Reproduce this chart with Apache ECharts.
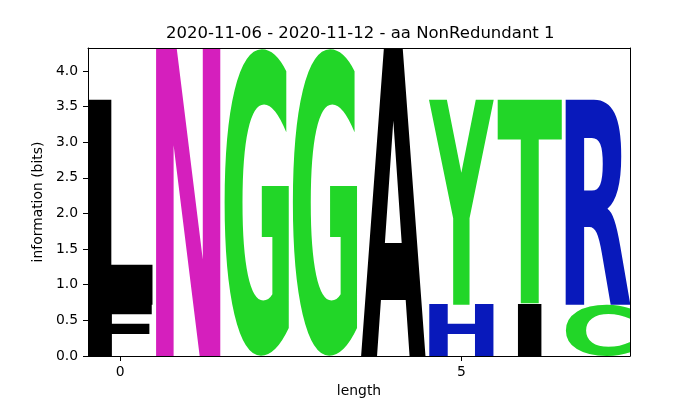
<!DOCTYPE html>
<html>
<head>
<meta charset="utf-8">
<script src="https://cdn.jsdelivr.net/npm/echarts@6/dist/echarts.min.js"></script>
<style>
html, body { margin: 0; background: #fff; }
#chart { width: 700px; height: 400px; }
</style>
</head>
<body>
<div id="chart"></div>
<script>
// glyphs, stacked bottom to top inside each position
var letterPos = [0, 0, 1, 2, 3, 4, 5, 5, 6, 6, 7, 7];
var letterChars = ['F', 'L', 'N', 'G', 'G', 'A', 'H', 'Y', 'I', 'T', 'C', 'R'];
var letterBits = [0.72, 2.88, 4.32, 4.32, 4.32, 4.32, 0.72, 2.88, 0.72, 2.88, 0.72, 2.88];

var xTicks = [0, 5];
var yTicks = [0, 0.5, 1, 1.5, 2, 2.5, 3, 3.5, 4];

var titleText = '2020-11-06 - 2020-11-12 - aa NonRedundant 1';

var colors = {
	F: '#000000', L: '#000000', A: '#000000', I: '#000000',
	N: '#D51FBD',
	G: '#22D628', Y: '#22D628', T: '#22D628', C: '#22D628',
	H: '#0819BB', R: '#0819BB'
};

var GLYPH_FAMILY = 'DejaVu Sans';
var GLYPH_SIZE = 200;
var GLYPH_W = 0.95;
// narrow letters get no more horizontal stretch than this one
var STRETCH_REF = 'E';

// ink box of each letter, relative to a left / middle anchor (the way zrender draws text)
var measureCtx = document.createElement('canvas').getContext('2d');
var boxes = {};
function inkBox(ch){
	if(boxes[ch]) return boxes[ch];
	measureCtx.font = 'bold ' + GLYPH_SIZE + 'px ' + GLYPH_FAMILY;
	measureCtx.textBaseline = 'middle';
	measureCtx.textAlign = 'left';
	var m = measureCtx.measureText(ch);
	boxes[ch] = {
		l: -m.actualBoundingBoxLeft,
		r: m.actualBoundingBoxRight,
		t: -m.actualBoundingBoxAscent,
		b: m.actualBoundingBoxDescent
	};
	return boxes[ch];
}

var floors = {};
var letterData = letterPos.map(function(p, i){
	var base = floors[p] || 0;
	floors[p] = base + letterBits[i];
	return [p, base, letterBits[i], i];
});

function renderLetter(params, api){
	var p = api.value(0), base = api.value(1), h = api.value(2);
	var ch = letterChars[api.value(3)];
	var lo = api.coord([p - GLYPH_W / 2, base]);
	var hi = api.coord([p + GLYPH_W / 2, base + h]);
	var slot = hi[0] - lo[0];
	var b = inkBox(ch), e = inkBox(STRETCH_REF);
	var sx = Math.min(slot / (b.r - b.l), slot / (e.r - e.l));
	var shift = (slot - (b.r - b.l) * sx) / 2;
	var sy = (lo[1] - hi[1]) / (b.b - b.t);
	return {
		type: 'text',
		x: lo[0] + shift - b.l * sx,
		y: hi[1] - b.t * sy,
		scaleX: sx,
		scaleY: sy,
		style: {
			text: ch,
			x: 0,
			y: 0,
			fill: colors[ch],
			fontFamily: GLYPH_FAMILY,
			fontSize: GLYPH_SIZE,
			fontWeight: 'bold',
			align: 'left',
			verticalAlign: 'middle'
		}
	};
}

function ext(a, b){
	for(var k in b) a[k] = b[k];
	return a;
}

var labelFont = {fontFamily: 'DejaVu Sans', fontSize: 13.9, color: '#000'};

var chart = echarts.init(document.getElementById('chart'), null, {renderer: 'canvas'});
chart.setOption({
	animation: false,
	backgroundColor: '#fff',
	title: {
		text: titleText,
		left: 161,
		top: 20,
		textStyle: {fontFamily: 'DejaVu Sans', fontSize: 16.5, fontWeight: 'normal', color: '#000'}
	},
	grid: {left: 88, right: 70, top: 48, bottom: 44, containLabel: false, outerBoundsMode: 'none'},
	xAxis: [{
		type: 'value',
		min: -0.47,
		max: 7.47,
		name: 'length',
		nameLocation: 'middle',
		nameGap: 28,
		nameTextStyle: labelFont,
		splitLine: {show: false},
		axisLine: {onZero: false, lineStyle: {color: '#000', width: 1}},
		axisTick: {length: 5, lineStyle: {color: '#000'}, customValues: xTicks},
		axisLabel: ext({margin: 9, customValues: xTicks}, labelFont),
		z: 5
	}, {
		type: 'value',
		position: 'top',
		min: -0.47,
		max: 7.47,
		splitLine: {show: false},
		axisLine: {onZero: false, lineStyle: {color: '#000', width: 1}},
		axisTick: {show: false},
		axisLabel: {show: false},
		z: 5
	}],
	yAxis: [{
		type: 'value',
		min: 0,
		max: 4.3219,
		name: 'information (bits)',
		nameLocation: 'middle',
		nameGap: 31,
		nameTextStyle: labelFont,
		splitLine: {show: false},
		axisLine: {show: true, onZero: false, lineStyle: {color: '#000', width: 1}},
		axisTick: {show: true, length: 5, lineStyle: {color: '#000'}, customValues: yTicks},
		axisLabel: ext({margin: 10, customValues: yTicks, formatter: function(v){ return v.toFixed(1); }}, labelFont),
		z: 5
	}, {
		type: 'value',
		position: 'right',
		min: 0,
		max: 4.3219,
		splitLine: {show: false},
		axisLine: {show: true, onZero: false, lineStyle: {color: '#000', width: 1}},
		axisTick: {show: false},
		axisLabel: {show: false},
		z: 5
	}],
	series: [{
		type: 'custom',
		clip: true,
		xAxisIndex: 0,
		yAxisIndex: 0,
		renderItem: renderLetter,
		data: letterData
	}]
});
</script>
</body>
</html>
